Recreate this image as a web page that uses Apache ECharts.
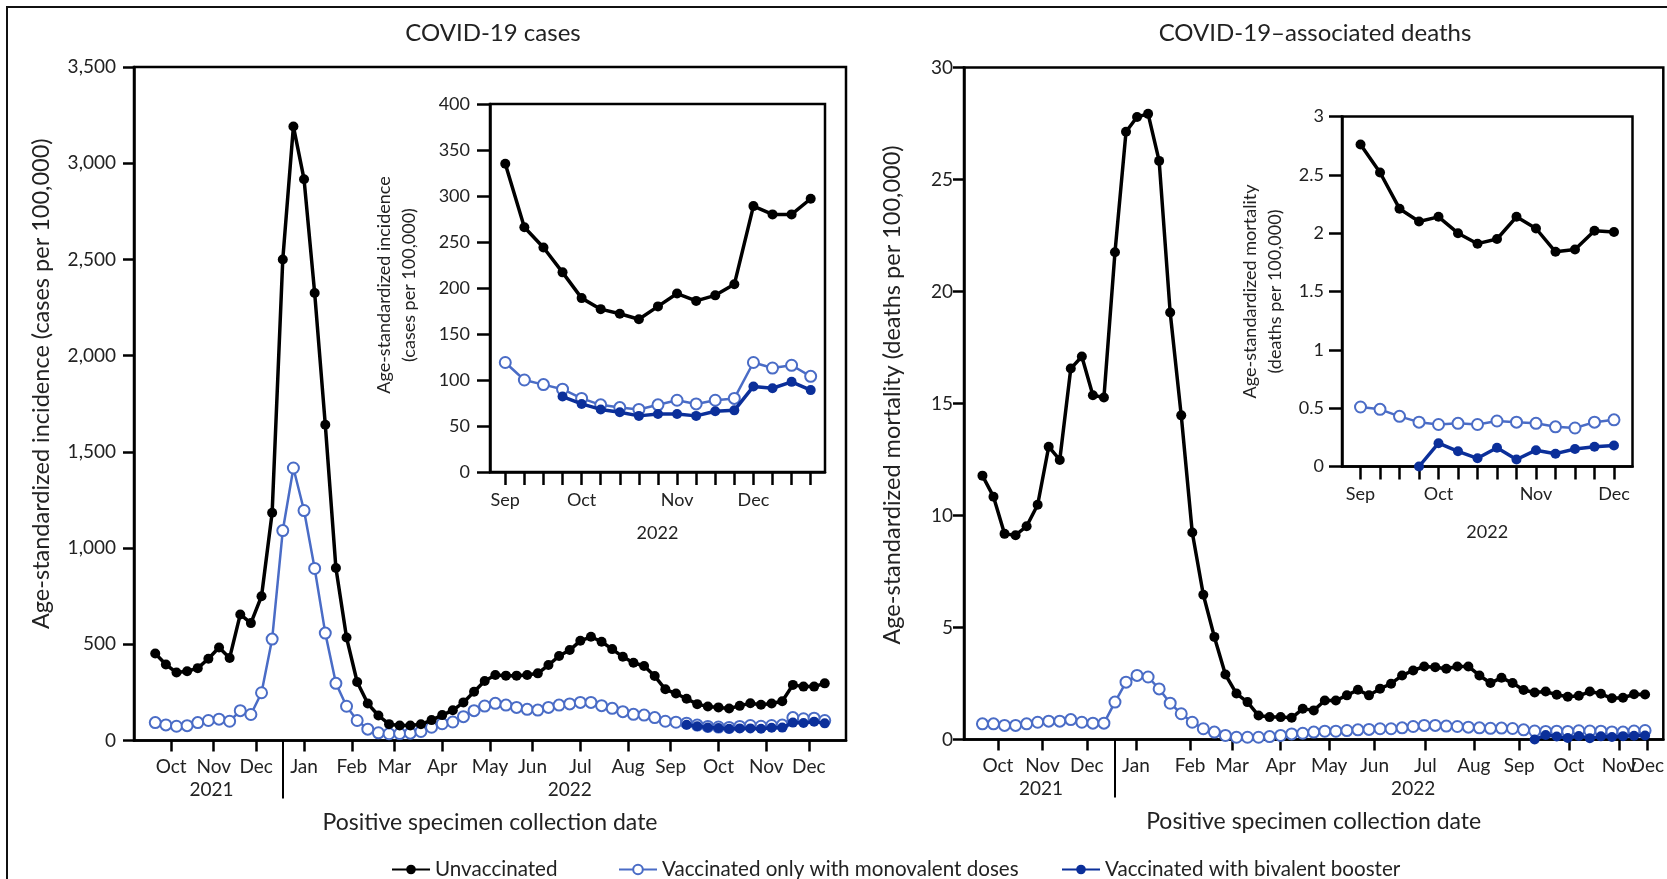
<!DOCTYPE html>
<html><head><meta charset="utf-8">
<script src="https://cdn.jsdelivr.net/npm/echarts@6/dist/echarts.min.js"></script>
<style>html,body{margin:0;padding:0;background:#fff}#c{width:1667px;height:879px}</style>
</head><body><div id="c"></div>
<script>
// ---------- DATA (weekly points, index 0 = first week, mid-Sep 2021) ----------
const casesUnvax = [452,395,353,360,376,425,483,429,655,610,750,1184,2500,3191,2917,2326,1641,896,535,304,192,130,85,78,78,84,106,132,157,198,253,309,340,337,337,340,349,392,439,470,518,539,513,475,435,404,387,335,266,244,217,189,177,172,166,180,194,186,192,204,289,280,280,297];
const casesMono = [93,81,74,77,93,104,111,100,155,135,248,527,1091,1416,1195,894,558,297,178,104,59,40,35,36,38,47,69,87,96,124,155,179,193,184,172,162,158,172,184,190,198,198,181,167,150,136,132,119,100,95,90,80,73,70,68,73,78,74,78,80,119,113,116,104];
const casesBivStart = 50;
const casesBiv = [82,74,68,65,61,63,63,61,66,67,93,91,98,89];

const deathsUnvax = [11.78,10.84,9.18,9.12,9.52,10.48,13.07,12.48,16.56,17.1,15.37,15.27,21.75,27.13,27.79,27.93,25.83,19.06,14.47,9.24,6.46,4.58,2.9,2.05,1.67,1.07,1.0,1.0,0.97,1.37,1.3,1.74,1.74,1.97,2.22,1.97,2.27,2.49,2.86,3.08,3.26,3.23,3.16,3.26,3.26,2.86,2.52,2.76,2.52,2.21,2.10,2.14,2.00,1.91,1.95,2.14,2.04,1.84,1.86,2.02,2.01];
const deathsMono = [0.70,0.70,0.63,0.63,0.70,0.77,0.82,0.82,0.89,0.77,0.73,0.73,1.67,2.56,2.86,2.79,2.26,1.62,1.15,0.77,0.48,0.33,0.18,0.10,0.10,0.10,0.13,0.18,0.25,0.28,0.33,0.37,0.37,0.40,0.43,0.45,0.48,0.48,0.52,0.58,0.63,0.63,0.60,0.58,0.55,0.52,0.50,0.51,0.49,0.43,0.38,0.36,0.37,0.36,0.39,0.38,0.37,0.34,0.33,0.38,0.40];
const deathsBivStart = 50;
const deathsBiv = [0.0,0.20,0.13,0.07,0.16,0.06,0.14,0.11,0.15,0.17,0.18];

const insetStart = 47; // insets show the last weeks (from early Sep 2022)

// tick positions (in weeks) and labels
const monthLabels = ['Oct','Nov','Dec','Jan','Feb','Mar','Apr','May','Jun','Jul','Aug','Sep','Oct','Nov','Dec'];
const casesMonthTicks = [1.5,5.5,9.5,14,18.5,22.5,27,31.5,35.5,40,44.5,48.5,53,57.5,61.5];
const deathsMonthTicks = [1.4,5.45,9.45,13.9,18.8,22.6,27,31.4,35.5,40.1,44.5,48.6,53.1,57.65,60.2];
const yearLabels = ['2021','2022'];
const yearPos = [5.3,39];
const yearSeparator = 12;
const insetMonthLabels = ['Sep','Oct','Nov','Dec'];
const insetMonthPos = [0,4,9,13];
const casesYTicks = {min:0,max:3500,interval:500};
const deathsYTicks = {min:0,max:30,interval:5};
const casesInsetY = {min:0,max:400,interval:50};
const deathsInsetY = {min:0,max:3,interval:0.5};

// ---------- STYLE ----------
const FONT = 'Lato';
const TXT = '#222';
const BLACK = '#000';
const MONO = '#4a6cc6';
const BIV = '#0b2f9a';
const NAMES = ['Unvaccinated','Vaccinated only with monovalent doses','Vaccinated with bivalent booster'];

function nearestFormatter(pos, labels){
  return function(v){
    let best=0, bd=1e9;
    pos.forEach((t,i)=>{const d=Math.abs(t-v); if(d<bd){bd=d;best=i;}});
    return labels[best];
  };
}
const pts = (arr, start=0) => arr.map((v,i)=>[start+i, v]);
const seq = n => Array.from({length:n},(_, i)=>i);

function lineSeries(kind, data, xi, yi){
  const base = {type:'line', xAxisIndex:xi, yAxisIndex:yi, data, animation:false};
  if (kind===0) return Object.assign(base,{name:NAMES[0], symbol:'circle', symbolSize:10,
      itemStyle:{color:BLACK}, lineStyle:{color:BLACK,width:3.5}, z:5});
  if (kind===1) return Object.assign(base,{name:NAMES[1], symbol:'emptyCircle', symbolSize:11,
      itemStyle:{color:MONO, borderWidth:2.5}, lineStyle:{color:MONO,width:2.5}, z:3});
  return Object.assign(base,{name:NAMES[2], symbol:'circle', symbolSize:10,
      itemStyle:{color:BIV}, lineStyle:{color:BIV,width:3.5}, z:4});
}

const gridStyle = {show:true, borderColor:'#000', borderWidth:2.5, backgroundColor:'#fff'};
const axisLineStyle = {show:true, onZero:false, lineStyle:{color:'#000', width:2.5}};
const lbl = (size, extra) => Object.assign({color:TXT, fontFamily:FONT, fontSize:size}, extra||{});

function mainX(grid, min, max, ticks, labelPos){
  return {type:'value', gridIndex:grid, min, max, position:'bottom',
    axisLine:axisLineStyle,
    axisTick:{show:true, customValues:ticks, length:11, lineStyle:{color:'#000',width:2.5}},
    axisLabel:lbl(19,{customValues:labelPos, margin:17, hideOverlap:false,
      formatter:nearestFormatter(ticks, monthLabels)}),
    splitLine:{show:false}};
}
// extra label-only axis (used for a label that sits too close to its neighbour)
function labelOnlyX(grid, min, max, ticks, labelPos){
  return {type:'value', gridIndex:grid, min, max, position:'bottom',
    axisLine:{show:false, onZero:false}, axisTick:{show:false},
    axisLabel:lbl(19,{customValues:labelPos, margin:17, formatter:nearestFormatter(ticks, monthLabels)}),
    splitLine:{show:false}};
}
function yearX(grid, min, max){
  return {type:'value', gridIndex:grid, min, max, position:'bottom',
    axisLine:{show:false, onZero:false},
    axisTick:{show:true, customValues:[yearSeparator], length:58, lineStyle:{color:'#000',width:2}},
    axisLabel:lbl(19,{customValues:yearPos, margin:40, formatter:nearestFormatter(yearPos, yearLabels)}),
    splitLine:{show:false},
    name:'Positive specimen collection date', nameLocation:'middle', nameGap:71,
    nameTextStyle:lbl(23)};
}
function insetX(grid, min, max, n, gap){
  return {type:'value', gridIndex:grid, min, max, position:'bottom',
    axisLine:axisLineStyle,
    axisTick:{show:true, customValues:seq(n), length:13, lineStyle:{color:'#000',width:2.5}},
    axisLabel:lbl(18,{customValues:insetMonthPos, margin:19, hideOverlap:false,
      formatter:nearestFormatter(insetMonthPos, insetMonthLabels)}),
    splitLine:{show:false},
    name:'2022', nameLocation:'middle', nameGap:gap, nameTextStyle:lbl(18)};
}
function yAx(grid, t, name, gap, size, pad, fmt, tickLen, labelSize, margin){
  return {type:'value', gridIndex:grid, min:t.min, max:t.max, interval:t.interval,
    axisLine:axisLineStyle,
    axisTick:{show:true, length:tickLen, lineStyle:{color:'#000',width:2.5}},
    axisLabel:lbl(labelSize,{margin, formatter:fmt}),
    splitLine:{show:false},
    name, nameLocation:'middle', nameGap:gap,
    nameTextStyle:lbl(size,{padding:pad, lineHeight:size+7})};
}
const commaFmt = v => Number(v).toLocaleString('en-US');
const plainFmt = v => String(v);
const legendItem = (name, left) => ({left, top:854, itemWidth:38, itemHeight:12, data:[name], textStyle:lbl(20.6)});

const option = {
  backgroundColor:'#fff',
  animation:false,
  textStyle:{fontFamily:FONT},
  title:[
    {text:'COVID-19 cases', left:488, top:16, textAlign:'center',
     textStyle:{fontFamily:FONT, fontSize:24, fontWeight:'normal', color:TXT}},
    {text:'COVID-19\u2013associated deaths', left:1310, top:16, textAlign:'center',
     textStyle:{fontFamily:FONT, fontSize:24, fontWeight:'normal', color:TXT}}
  ],
  legend:[legendItem(NAMES[0], 386), legendItem(NAMES[1], 613), legendItem(NAMES[2], 1056)],
  grid:[
    Object.assign({left:134, top:67, width:712, height:673.5}, gridStyle),
    Object.assign({left:490, top:104, width:335, height:368}, gridStyle),
    Object.assign({left:964, top:67.5, width:701, height:672}, gridStyle),
    Object.assign({left:1342, top:116.5, width:290.5, height:350}, gridStyle)
  ],
  xAxis:[
    mainX(0,-2,65,casesMonthTicks,casesMonthTicks),
    yearX(0,-2,65),
    insetX(1,-0.8,16.75,17,52),
    mainX(2,-1.67,61.65,deathsMonthTicks,deathsMonthTicks.slice(0,-1)),
    yearX(2,-1.67,61.65),
    insetX(3,-0.95,13.95,14,57),
    labelOnlyX(2,-1.67,61.65,deathsMonthTicks,deathsMonthTicks.slice(-1))
  ],
  yAxis:[
    yAx(0, casesYTicks, 'Age-standardized incidence (cases per 100,000)', 77, 23.5, [0,0,0,40], commaFmt, 11, 19, 18),
    yAx(1, casesInsetY, 'Age-standardized incidence\n(cases per 100,000)', 68, 18, [0,0,0,6], plainFmt, 13, 18, 20),
    yAx(2, deathsYTicks, 'Age-standardized mortality (deaths per 100,000)', 56, 23.5, [0,0,0,17], plainFmt, 11, 19, 11),
    yAx(3, deathsInsetY, 'Age-standardized mortality\n(deaths per 100,000)', 54, 18, [0,0,0,0], plainFmt, 13, 18, 18)
  ],
  graphic:[
    {type:'rect', shape:{x:7, y:7, width:1700, height:900}, style:{fill:'none', stroke:'#111', lineWidth:2}, silent:true, z:-10}
  ],
  series:[
    lineSeries(1, pts(casesMono), 0, 0),
    lineSeries(2, pts(casesBiv, casesBivStart), 0, 0),
    lineSeries(0, pts(casesUnvax), 0, 0),
    lineSeries(1, pts(casesMono.slice(insetStart)), 2, 1),
    lineSeries(2, pts(casesBiv, casesBivStart-insetStart), 2, 1),
    lineSeries(0, pts(casesUnvax.slice(insetStart)), 2, 1),
    lineSeries(1, pts(deathsMono), 3, 2),
    lineSeries(2, pts(deathsBiv, deathsBivStart), 3, 2),
    lineSeries(0, pts(deathsUnvax), 3, 2),
    lineSeries(1, pts(deathsMono.slice(insetStart)), 5, 3),
    lineSeries(2, pts(deathsBiv, deathsBivStart-insetStart), 5, 3),
    lineSeries(0, pts(deathsUnvax.slice(insetStart)), 5, 3)
  ]
};
const chart = echarts.init(document.getElementById('c'), null, {renderer:'canvas'});
chart.setOption(option);
</script></body></html>
